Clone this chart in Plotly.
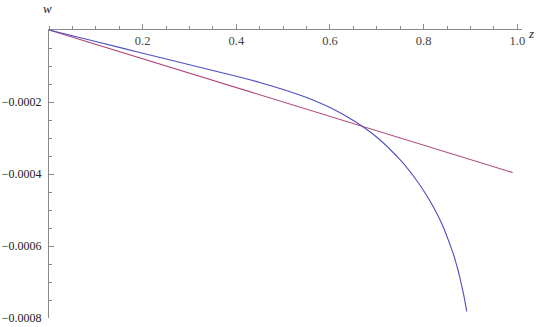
import plotly.graph_objects as go

# Blue curve
z_blue = [0.0, 0.1, 0.2, 0.3, 0.4, 0.45, 0.5, 0.55, 0.6, 0.65, 0.7, 0.75, 0.78,
          0.8, 0.82, 0.84, 0.86, 0.865, 0.87, 0.875, 0.88, 0.885, 0.892]
w_blue = [0.0, -0.322e-4, -0.644e-4, -0.966e-4, -1.285e-4, -1.4575e-4, -1.65e-4,
          -1.875e-4, -2.155e-4, -2.515e-4, -2.98e-4, -3.61e-4, -4.09e-4,
          -4.465e-4, -4.895e-4, -5.415e-4, -6.095e-4, -6.285e-4, -6.515e-4,
          -6.75e-4, -7.035e-4, -7.325e-4, -7.82e-4]

# Red straight line
z_red = [0.0, 0.99]
w_red = [0.0, -3.96e-4]

x_tickvals = [0.2, 0.4, 0.6, 0.8, 1.0]
x_ticktext = ["0.2", "0.4", "0.6", "0.8", "1.0"]
y_tickvals = [-0.0002, -0.0004, -0.0006, -0.0008]
y_ticktext = ["\u22120.0002", "\u22120.0004", "\u22120.0006", "\u22120.0008"]

FONT = "Liberation Serif, 'Times New Roman', serif"
AX = "#8a8a8a"

fig = go.Figure()
fig.add_trace(go.Scatter(x=z_red, y=w_red, mode="lines",
                         line=dict(color="#b0447a", width=1.1), hoverinfo="skip"))
fig.add_trace(go.Scatter(x=z_blue, y=w_blue, mode="lines", line_shape="spline",
                         line=dict(color="#4d4dc0", width=1.1, smoothing=1.0),
                         hoverinfo="skip"))

fig.update_layout(
    width=540, height=327,
    margin=dict(l=49, r=18, t=30, b=9, autoexpand=False),
    paper_bgcolor="white", plot_bgcolor="white",
    showlegend=False,
    font=dict(family=FONT, size=12, color="#222222"),
    xaxis=dict(range=[0, 1.01], side="top", showline=True, linecolor=AX, linewidth=1,
               showgrid=False, zeroline=False, automargin=False,
               tickvals=x_tickvals, ticktext=x_ticktext,
               ticks="outside", ticklen=5, tickcolor=AX, tickwidth=1,
               ticklabelposition="inside", ticklabeloverflow="allow",
               ticklabelstandoff=6,
               minor=dict(ticks="outside", dtick=0.05, tick0=0, ticklen=3,
                          tickcolor=AX, showgrid=False),
               tickfont=dict(family=FONT, size=12.5)),
    yaxis=dict(range=[-0.0008, 0], side="left", showline=True, linecolor=AX, linewidth=1,
               showgrid=False, zeroline=False, automargin=False,
               tickvals=y_tickvals, ticktext=y_ticktext,
               ticks="inside", ticklen=5, tickcolor=AX, tickwidth=1,
               ticklabelstandoff=4,
               minor=dict(ticks="inside", dtick=0.00005, tick0=0, ticklen=3,
                          tickcolor=AX, showgrid=False),
               tickfont=dict(family=FONT, size=12)),
    annotations=[
        dict(text="<i>w</i>", x=0, y=0, xref="x", yref="y", xanchor="center",
             yanchor="bottom", yshift=12, xshift=-2, showarrow=False,
             font=dict(family=FONT, size=13)),
        dict(text="<i>z</i>", x=1.01, y=0, xref="x", yref="y", xanchor="left",
             yanchor="middle", xshift=4, yshift=-3, showarrow=False,
             font=dict(family=FONT, size=13)),
    ],
)

fig.write_html("out.html")
